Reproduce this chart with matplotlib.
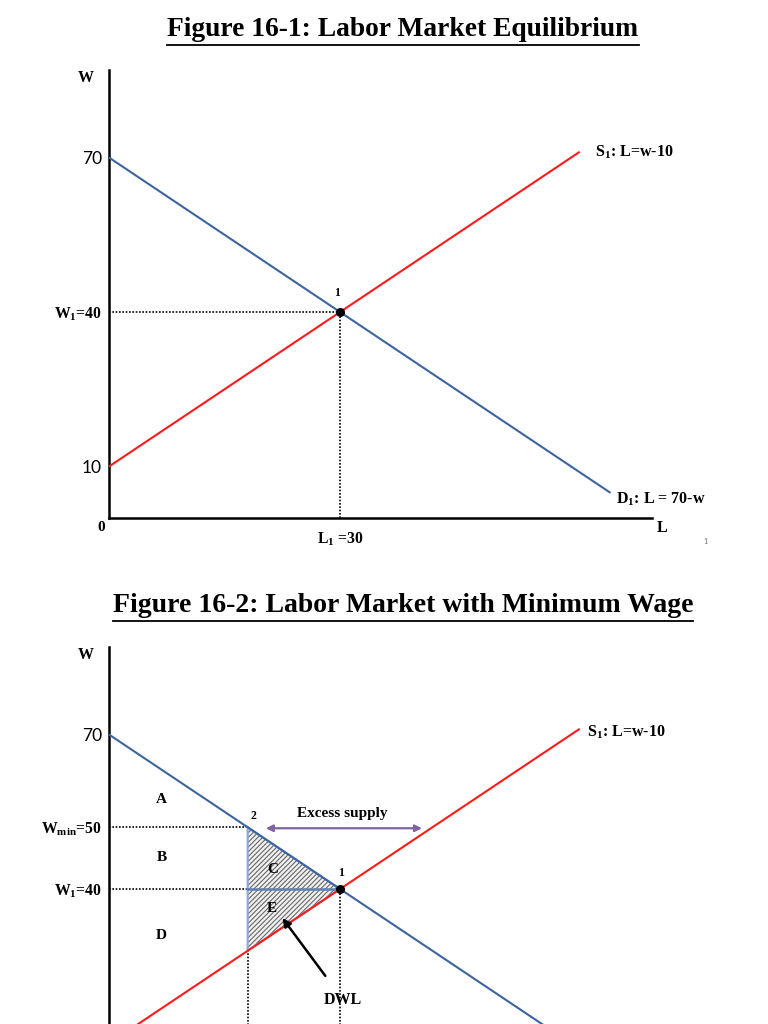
import matplotlib
matplotlib.use("Agg")
import matplotlib.pyplot as plt
from matplotlib.patches import Polygon
from matplotlib.lines import Line2D

plt.rcParams['mathtext.default'] = 'regular'
plt.rcParams['hatch.linewidth'] = 0.8

# ---------------- data ----------------
L_demand = [0, 65]          # D1: L = 70 - w
w_demand = [70, 5]
L_supply = [0, 61]          # S1: L = w - 10
w_supply = [10, 71]
L_eq, w_eq = 30, 40         # equilibrium point 1
L_min, w_min_drawn = 18, 52  # point 2 (minimum wage, drawn position)
L_excess = [20, 41]          # excess supply arrow ends
w_excess = 51.8
dwl_triangle_L = [18, 30, 18]
dwl_triangle_w = [52, 40, 28]

yticks_1 = [70, 40, 10]
ylabels_1 = ["70", "W$_1$=40", "10"]
yticks_2 = [70, 52, 40]
ylabels_2 = ["70", "W$_{min}$=50", "W$_1$=40"]

area_labels = ["A", "B", "D", "C", "E"]
area_L = [6.8, 6.8, 6.8, 21.3, 21.2]
area_w = [57.3, 46.2, 31.0, 43.7, 36.3]

SERIF = "Liberation Serif"
SANS = "Lato"
BLUE = "#3B64A0"
RED = "#FF1A1A"

W, H = 768, 1024
fig = plt.figure(figsize=(7.68, 10.24), dpi=100)


def axes_px(left, top, right, bottom):
    return fig.add_axes([left / W, 1 - bottom / H, (right - left) / W, (bottom - top) / H])


def setup(ax, yt, yl):
    ax.set_xlim(0, 70.5)
    ax.set_ylim(0, 87)
    for s in ("top", "right"):
        ax.spines[s].set_visible(False)
    for s in ("left", "bottom"):
        ax.spines[s].set_linewidth(1.8)
    ax.set_yticks(yt)
    ax.set_yticklabels(yl)
    ax.tick_params(length=0, pad=5)
    for t in ax.get_yticklabels():
        if t.get_text() in ("70", "10"):
            t.set_fontfamily(SANS)
            t.set_fontsize(12.5)
        else:
            t.set_fontfamily(SERIF)
            t.set_fontweight("bold")
            t.set_fontsize(11.3)
    ax.text(-3, 85.4, "W", fontfamily=SERIF, fontweight="bold", fontsize=11.5,
            ha="center", va="center", clip_on=False)


def dotted(ax, xs, ys):
    ax.plot(xs, ys, color="black", lw=1.2, linestyle=(0, (1, 1)), clip_on=False, zorder=2)


def underline_title(text_obj):
    fig.canvas.draw()
    bb = text_obj.get_window_extent()
    y = bb.y0 - 2
    fig.add_artist(Line2D([bb.x0 / W, bb.x1 / W], [y / H, y / H], color="black", lw=1.3))


# ---------------- Panel 1 ----------------
ax1 = axes_px(109, 70, 652, 518)
setup(ax1, yticks_1, ylabels_1)
ax1.set_xticks([L_eq])
ax1.set_xticklabels(["L$_1$ =30"], fontfamily=SERIF, fontweight="bold", fontsize=11.3)
ax1.tick_params(axis="x", pad=9)

dotted(ax1, [0, L_eq], [w_eq, w_eq])
dotted(ax1, [L_eq, L_eq], [0, w_eq])
ax1.plot(L_demand, w_demand, color=BLUE, lw=1.5, zorder=3)
ax1.plot(L_supply, w_supply, color=RED, lw=1.5, zorder=3)
ax1.plot([L_eq], [w_eq], "o", color="black", ms=5.5, zorder=4)
ax1.text(L_eq - 0.4, w_eq + 3.7, "1", fontfamily=SERIF, fontweight="bold", fontsize=8.5, ha="center", va="center")
ax1.text(63.1, 71.1, "S$_1$: L=w-10", fontfamily=SERIF, fontweight="bold", fontsize=11.5, ha="left", va="center")
ax1.text(65.8, 3.7, "D$_1$: L = 70-w", fontfamily=SERIF, fontweight="bold", fontsize=11.5, ha="left", va="center")
ax1.text(-1.0, -1.9, "0", fontfamily=SERIF, fontweight="bold", fontsize=11, ha="center", va="center", clip_on=False)
ax1.text(71.8, -1.9, "L", fontfamily=SERIF, fontweight="bold", fontsize=11.5, ha="center", va="center", clip_on=False)
fig.text(705 / W, 1 - 541 / H, "1", fontfamily=SANS, fontsize=5, color="#666666", ha="center", va="center")

t1 = fig.text(403 / W, 1 - 30 / H, "Figure 16-1: Labor Market Equilibrium", fontfamily=SERIF,
              fontweight="bold", fontsize=19.8, ha="center", va="center")

# ---------------- Panel 2 ----------------
ax2 = axes_px(109, 647, 652, 1095)
setup(ax2, yticks_2, ylabels_2)
ax2.set_xticks([])

dotted(ax2, [0, L_min], [w_min_drawn, w_min_drawn])
dotted(ax2, [0, L_min], [w_eq, w_eq])
dotted(ax2, [L_min, L_min], [0, w_min_drawn])
dotted(ax2, [L_eq, L_eq], [0, w_eq])

tri_xy = list(zip(dwl_triangle_L, dwl_triangle_w))
ax2.add_patch(Polygon(tri_xy, closed=True, facecolor="#f2f2f2", edgecolor="#666666",
                      hatch="///////", lw=0, zorder=2))
ax2.add_patch(Polygon(tri_xy, closed=True, facecolor="none", edgecolor="#8EA9DB", lw=1.6, zorder=2.5))
ax2.plot([L_min, L_eq], [w_eq, w_eq], color="#5A7FB8", lw=1.8, zorder=2.6)

ax2.plot(L_demand, w_demand, color=BLUE, lw=1.5, zorder=3)
ax2.plot(L_supply, w_supply, color=RED, lw=1.5, zorder=3)
ax2.plot([L_eq], [w_eq], "o", color="black", ms=5.5, zorder=4)

ax2.annotate("", xy=(L_excess[0], w_excess), xytext=(L_excess[1], w_excess),
             arrowprops=dict(arrowstyle="<|-|>", color="#8064A2", lw=1.6, mutation_scale=10))
ax2.text(30.3, 54.6, "Excess supply", fontfamily=SERIF, fontweight="bold", fontsize=11,
         ha="center", va="center")
ax2.text(L_min + 0.7, w_min_drawn + 2.2, "2", fontfamily=SERIF, fontweight="bold", fontsize=8.5, ha="center", va="center")
ax2.text(L_eq + 0.1, w_eq + 3.1, "1", fontfamily=SERIF, fontweight="bold", fontsize=8.5, ha="center", va="center")
for lab, lx, ly in zip(area_labels, area_L, area_w):
    ax2.text(lx, ly, lab, fontfamily=SERIF, fontweight="bold", fontsize=11, ha="center", va="center", zorder=5)

ax2.annotate("", xy=(22.3, 34.8), xytext=(28.3, 22.7),
             arrowprops=dict(arrowstyle="-|>", color="black", lw=1.8, mutation_scale=12))
ax2.text(30.3, 18.4, "DWL", fontfamily=SERIF, fontweight="bold", fontsize=11.5, ha="center", va="center")
ax2.text(62.0, 70.5, "S$_1$: L=w-10", fontfamily=SERIF, fontweight="bold", fontsize=11.5, ha="left", va="center")

t2 = fig.text(403 / W, 1 - 606 / H, "Figure 16-2: Labor Market with Minimum Wage", fontfamily=SERIF,
              fontweight="bold", fontsize=20, ha="center", va="center")

underline_title(t1)
underline_title(t2)

fig.savefig("out.png", dpi=100)
